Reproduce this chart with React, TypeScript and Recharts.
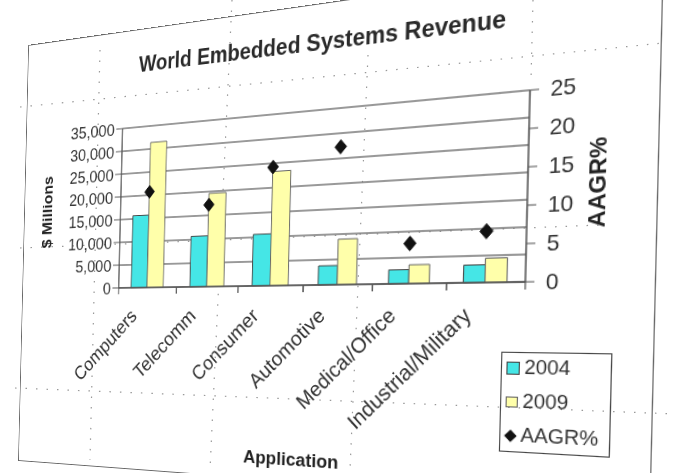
import React from 'react';
import {
	Bar,
	CartesianGrid,
	ComposedChart,
	Line,
	XAxis,
	YAxis,
} from 'recharts';

const categories = ['Computers', 'Telecomm', 'Consumer', 'Automotive', 'Medical/Office', 'Industrial/Military'];
const rev2004 = [15700, 10700, 10600, 3800, 2700, 3300];
const rev2009 = [31400, 19600, 23300, 9000, 3600, 4500];
const aagr = [14.8, 12.3, 17.3, 19.5, 5.5, 6.8];
const leftTicks = [0, 5000, 10000, 15000, 20000, 25000, 30000, 35000];
const rightTicks = [0, 5, 10, 15, 20, 25];

const data = categories.map((name, i) => ({
	name,
	y2004: rev2004[i],
	y2009: rev2009[i],
	aagr: aagr[i],
}));

const FONT = '"Liberation Sans", Arial, sans-serif';
const CYAN = '#45e6e6';
const YELLOW = '#ffffaa';

// faint dotted sheet gridlines seen behind the photographed chart
const sheetLines = [
	[20, 107, 663, 43],
	[20, 248, 600, 225],
	[15, 388, 675, 414],
	[100, 50, 90, 460],
	[232, 0, 210, 470],
	[368, 55, 350, 470],
	[533, 0, 531, 80],
];

const Diamond = (props: any) => {
	const { cx, cy } = props;
	if (cx == null || cy == null) return null;
	const r = 7;
	return (
		<path
			d={`M${cx},${cy - r} L${cx + r - 1},${cy} L${cx},${cy + r} L${cx - r + 1},${cy} Z`}
			fill="#111"
			stroke="#111"
		/>
	);
};

// label plus Excel-style tick marks on the category boundaries
const CategoryTick = (props: any) => {
	const { x, y, payload } = props;
	const half = payload && payload.offset ? payload.offset : 36;
	const ax = x - 11;
	const ay = y + 32;
	return (
		<g>
			<line x1={x - half} y1={y} x2={x - half} y2={y + 7} stroke="#555" strokeWidth={1.2} />
			<line x1={x + half} y1={y} x2={x + half} y2={y + 7} stroke="#555" strokeWidth={1.2} />
			<text
				x={ax}
				y={ay}
				transform={`rotate(-45, ${ax}, ${ay})`}
				textAnchor="end"
				fontSize={21}
				fontFamily={FONT}
				fill="#333"
			>
				{payload.value}
			</text>
		</g>
	);
};

// rotated axis title, placed by offset from the axis box
const AxisTitle = (props: any) => {
	const { viewBox, text, dx, size } = props;
	if (!viewBox) return null;
	const cx = viewBox.x + dx;
	const cy = viewBox.y + viewBox.height / 2;
	return (
		<text
			x={cx}
			y={cy}
			transform={`rotate(-90, ${cx}, ${cy})`}
			textAnchor="middle"
			dominantBaseline="central"
			fontSize={size}
			fontWeight="bold"
			fontFamily={FONT}
			fill="#222"
		>
			{text}
		</text>
	);
};

const XTitle = (props: any) => {
	const { viewBox } = props;
	if (!viewBox) return null;
	const cx = viewBox.x + viewBox.width / 2 - 10;
	const cy = viewBox.y + viewBox.height - 25;
	return (
		<text x={cx} y={cy} textAnchor="middle" dominantBaseline="central" fontSize={19} fontWeight="bold" fontFamily={FONT} fill="#222">
			Application
		</text>
	);
};

const legendRow = { display: 'flex', alignItems: 'center', gap: 4 } as const;

export default function App() {
	return (
		<div style={{ position: 'absolute', left: 0, top: 0, width: 675, height: 473, overflow: 'hidden', background: '#fff' }}>
			<svg width={675} height={473} style={{ position: 'absolute', left: 0, top: 0 }}>
				{sheetLines.map(([x1, y1, x2, y2], i) => (
					<line key={i} x1={x1} y1={y1} x2={x2} y2={y2} stroke="#999" strokeWidth={1.2} strokeDasharray="1.5 9" />
				))}
			</svg>
			<div
				style={{
					position: 'absolute',
					left: -34,
					top: 20,
					width: 700,
					height: 480,
					fontFamily: FONT,
					transformOrigin: '50% 50%',
					transform: 'skew(-1.4deg, -1.5deg) perspective(800px) rotateY(-20deg)',
				}}
			>
				<div
					style={{
						position: 'absolute',
						left: -10,
						top: -17,
						width: 674,
						height: 480,
						border: '1.5px solid #666',
						boxSizing: 'border-box',
					}}
				/>
				<div
					style={{
						position: 'absolute',
						top: 9,
						left: -15,
						width: 700,
						textAlign: 'center',
						fontSize: 23,
						fontWeight: 'bold',
						color: '#2a2a2a',
					}}
				>
					World Embedded Systems Revenue
				</div>
				<ComposedChart
					width={700}
					height={480}
					data={data}
					margin={{ top: 90, right: 66, left: 5, bottom: 15 }}
					barGap={0}
					barCategoryGap="22%"
				>
					<CartesianGrid yAxisId="left" vertical={false} stroke="#777" strokeWidth={1.5} />
					<XAxis
						dataKey="name"
						interval={0}
						height={200}
						tickSize={0}
						tickMargin={0}
						tickLine={false}
						tick={<CategoryTick />}
						axisLine={{ stroke: '#555', strokeWidth: 1.5 }}
						label={<XTitle />}
					/>
					<YAxis
						yAxisId="left"
						domain={[0, 35000]}
						ticks={leftTicks}
						interval={0}
						width={115}
						tickSize={8}
						tickFormatter={(v: number) => v.toLocaleString('en-US')}
						tick={{ fill: '#333', fontSize: 19, fontFamily: FONT }}
						axisLine={{ stroke: '#555', strokeWidth: 1.5 }}
						tickLine={{ stroke: '#555' }}
						label={<AxisTitle text="$ Millions" dx={17} size={18} />}
					/>
					<YAxis
						yAxisId="right"
						orientation="right"
						domain={[0, 25]}
						ticks={rightTicks}
						interval={0}
						width={80}
						tickSize={8}
						tickMargin={10}
						tick={{ fill: '#333', fontSize: 20, fontFamily: FONT }}
						axisLine={{ stroke: '#555', strokeWidth: 1.5 }}
						tickLine={{ stroke: '#555' }}
						label={<AxisTitle text="AAGR%" dx={60} size={21} />}
					/>
					<Bar yAxisId="left" dataKey="y2004" name="2004" fill={CYAN} stroke="#444" strokeWidth={1} isAnimationActive={false} />
					<Bar yAxisId="left" dataKey="y2009" name="2009" fill={YELLOW} stroke="#666" strokeWidth={1} isAnimationActive={false} />
					<Line
						yAxisId="right"
						dataKey="aagr"
						name="AAGR%"
						stroke="none"
						strokeWidth={0}
						dot={<Diamond />}
						activeDot={false}
						isAnimationActive={false}
					/>
				</ComposedChart>
				<div
					style={{
						position: 'absolute',
						left: 534,
						top: 329,
						width: 96,
						height: 92,
						border: '1.5px solid #444',
						fontSize: 18,
						color: '#333',
						padding: '3px 4px 4px 4px',
						boxSizing: 'border-box',
						display: 'flex',
						flexDirection: 'column',
						justifyContent: 'space-between',
					}}
				>
					<div style={legendRow}>
						<span style={{ width: 10, height: 10, background: CYAN, border: '1px solid #444', display: 'inline-block' }} />
						2004
					</div>
					<div style={legendRow}>
						<span style={{ width: 9, height: 8, background: YELLOW, border: '1px solid #666', display: 'inline-block' }} />
						2009
					</div>
					<div style={legendRow}>
						<span style={{ width: 10, height: 10, background: '#111', transform: 'rotate(45deg) scale(0.8)', display: 'inline-block' }} />
						AAGR%
					</div>
				</div>
			</div>
		</div>
	);
}
